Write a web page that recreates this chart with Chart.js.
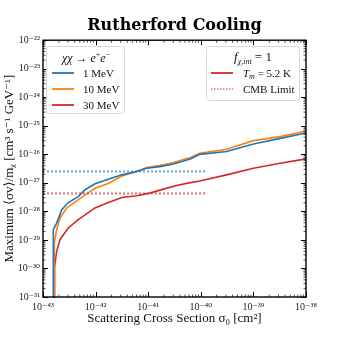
<!DOCTYPE html>
<html>
<head>
<meta charset="utf-8">
<script src="https://cdn.jsdelivr.net/npm/chart.js@4"></script>
<style>
  html, body { margin: 0; padding: 0; background: #fff; }
</style>
</head>
<body>
<canvas id="coolingChart" width="340" height="340"></canvas>
<script>
// values (sigma0 in cm^2, <sigma v>/m_chi in cm^3 s^-1 GeV^-1)
var blueX = [1.55e-43, 1.57e-43, 1.82e-43, 2.27e-43, 3.02e-43, 4.68e-43, 6.31e-43, 9.77e-43, 1.74e-42, 3.16e-42, 6.03e-42, 9.33e-42, 1.66e-41, 3.02e-41, 6.31e-41, 9.55e-41, 3.09e-40, 1e-39, 3.24e-39, 1e-38];
var blueY = [1e-32, 2.29e-29, 3.89e-29, 1.15e-28, 2.04e-28, 3.31e-28, 5.75e-28, 9.33e-28, 1.35e-27, 1.91e-27, 2.51e-27, 3.24e-27, 3.72e-27, 4.57e-27, 6.92e-27, 1e-26, 1.26e-26, 2.29e-26, 3.63e-26, 5.62e-26];

var orangeX = [1.62e-43, 1.64e-43, 1.82e-43, 2.10e-43, 2.82e-43, 4.68e-43, 6.31e-43, 9.77e-43, 1.74e-42, 3.16e-42, 6.03e-42, 9.33e-42, 1.66e-41, 3.02e-41, 6.31e-41, 9.55e-41, 3.09e-40, 1e-39, 3.24e-39, 1e-38];
var orangeY = [1e-32, 7.94e-30, 2.29e-29, 5.89e-29, 1.32e-28, 2.57e-28, 3.80e-28, 6.46e-28, 9.55e-28, 1.74e-27, 2.51e-27, 3.47e-27, 4.07e-27, 5.13e-27, 7.76e-27, 1.10e-26, 1.51e-26, 3.02e-26, 4.17e-26, 6.61e-26];

var redX = [1.64e-43, 1.66e-43, 1.82e-43, 2.10e-43, 3.02e-43, 4.68e-43, 9.77e-43, 1.74e-42, 3.16e-42, 6.03e-42, 1.07e-41, 1.95e-41, 3.47e-41, 6.31e-41, 9.55e-41, 3.09e-40, 1e-39, 3.24e-39, 1e-38];
var redY = [1e-32, 1.17e-30, 3.98e-30, 1.02e-29, 2.63e-29, 5.13e-29, 1.32e-28, 2.04e-28, 3.09e-28, 3.55e-28, 4.37e-28, 6.03e-28, 8.13e-28, 1.02e-27, 1.17e-27, 1.91e-27, 3.24e-27, 4.90e-27, 6.92e-27];

// CMB limits (dotted)
var cmbX = [1e-43, 1.25e-40];
var cmbBlueY = [2.51e-27, 2.51e-27];
var cmbRedY = [4.27e-28, 4.27e-28];

var massLabels = ['1 MeV', '10 MeV', '30 MeV'];

var xTickValues = [1e-43, 1e-42, 1e-41, 1e-40, 1e-39, 1e-38];
var xTickLabels = ['10⁻⁴³', '10⁻⁴²', '10⁻⁴¹', '10⁻⁴⁰', '10⁻³⁹', '10⁻³⁸'];
var yTickValues = [1e-31, 1e-30, 1e-29, 1e-28, 1e-27, 1e-26, 1e-25, 1e-24, 1e-23, 1e-22];
var yTickLabels = ['10⁻³¹', '10⁻³⁰', '10⁻²⁹', '10⁻²⁸', '10⁻²⁷', '10⁻²⁶', '10⁻²⁵', '10⁻²⁴', '10⁻²³', '10⁻²²'];

var BLUE = '#1f77b4', ORANGE = '#ff7f0e', RED = '#d62728';
var SERIF = '"Liberation Serif", "DejaVu Serif", serif';

function pts(xs, ys){
  var out = [];
  for(var i = 0; i < xs.length; i++) out.push({ x: xs[i], y: ys[i] });
  return out;
}

function drawRich(ctx, parts, x, y, align){
  var w = 0;
  for(var i = 0; i < parts.length; i++){ ctx.font = parts[i][1]; w += ctx.measureText(parts[i][0]).width; }
  var cx = align === 'center' ? x - w / 2 : x;
  for(var i = 0; i < parts.length; i++){
    ctx.font = parts[i][1];
    ctx.fillText(parts[i][0], cx, y + (parts[i][2] || 0));
    cx += ctx.measureText(parts[i][0]).width;
  }
}

function legendBox(ctx, x, y, w, h){
  ctx.beginPath();
  ctx.roundRect(x, y, w, h, 3);
  ctx.fillStyle = 'rgba(255,255,255,0.85)';
  ctx.fill();
  ctx.strokeStyle = '#d8d8d8';
  ctx.lineWidth = 1;
  ctx.stroke();
}

// inward ticks on all four sides + frame
var frameTicks = {
  id: 'frameTicks',
  afterDatasetsDraw: function(chart){
    var ctx = chart.ctx, a = chart.chartArea;
    var xs = chart.scales.x, ys = chart.scales.y;
    ctx.save();
    ctx.strokeStyle = '#000';

    for(var i = 0; i < xTickValues.length; i++){
      var px = Math.round(xs.getPixelForValue(xTickValues[i])) + 0.5;
      ctx.lineWidth = 1;
      ctx.beginPath();
      ctx.moveTo(px, a.bottom); ctx.lineTo(px, a.bottom - 5);
      ctx.moveTo(px, a.top); ctx.lineTo(px, a.top + 5);
      ctx.stroke();
      if(i === xTickValues.length - 1) break;
      ctx.lineWidth = 0.7;
      for(var m = 2; m < 10; m++){
        var mx = xs.getPixelForValue(xTickValues[i] * m);
        ctx.beginPath();
        ctx.moveTo(mx, a.bottom); ctx.lineTo(mx, a.bottom - 2.5);
        ctx.moveTo(mx, a.top); ctx.lineTo(mx, a.top + 2.5);
        ctx.stroke();
      }
    }
    for(var j = 0; j < yTickValues.length; j++){
      var py = Math.round(ys.getPixelForValue(yTickValues[j])) + 0.5;
      ctx.lineWidth = 1;
      ctx.beginPath();
      ctx.moveTo(a.left, py); ctx.lineTo(a.left + 5, py);
      ctx.moveTo(a.right, py); ctx.lineTo(a.right - 5, py);
      ctx.stroke();
      if(j === yTickValues.length - 1) break;
      ctx.lineWidth = 0.7;
      for(var n = 2; n < 10; n++){
        var my = ys.getPixelForValue(yTickValues[j] * n);
        ctx.beginPath();
        ctx.moveTo(a.left, my); ctx.lineTo(a.left + 2.5, my);
        ctx.moveTo(a.right, my); ctx.lineTo(a.right - 2.5, my);
        ctx.stroke();
      }
    }
    ctx.lineWidth = 1.4;
    ctx.strokeRect(a.left, a.top, a.right - a.left, a.bottom - a.top);
    ctx.restore();
  }
};

// the two matplotlib-style legends
var twoLegends = {
  id: 'twoLegends',
  afterDraw: function(chart){
    var ctx = chart.ctx;
    ctx.save();
    ctx.textBaseline = 'alphabetic';
    ctx.fillStyle = '#111';

    legendBox(ctx, 46.5, 46.5, 78, 67);
    ctx.fillStyle = '#111';
    drawRich(ctx, [
      ['χχ', 'italic 12px ' + SERIF], [' → ', '12px ' + SERIF],
      ['e', 'italic 12px ' + SERIF], ['+', '8px ' + SERIF, -5],
      ['e', 'italic 12px ' + SERIF], ['−', '8px ' + SERIF, -5]
    ], 86, 62, 'center');
    var cols = [BLUE, ORANGE, RED];
    for(var i = 0; i < massLabels.length; i++){
      var ly = 73 + i * 16;
      ctx.strokeStyle = cols[i]; ctx.lineWidth = 1.8;
      ctx.beginPath(); ctx.moveTo(52, ly); ctx.lineTo(74, ly); ctx.stroke();
      ctx.fillStyle = '#111';
      ctx.font = '11px ' + SERIF;
      ctx.fillText(massLabels[i], 83, ly + 4);
    }

    legendBox(ctx, 206.5, 46.5, 93, 54);
    ctx.fillStyle = '#111';
    drawRich(ctx, [
      ['f', 'italic 13px ' + SERIF], ['χ,int', 'italic 8px ' + SERIF, 3], [' = 1', '13px ' + SERIF]
    ], 253, 61, 'center');
    ctx.strokeStyle = RED; ctx.lineWidth = 1.8;
    ctx.beginPath(); ctx.moveTo(211, 73); ctx.lineTo(233, 73); ctx.stroke();
    ctx.setLineDash([1.5, 1.5]); ctx.lineWidth = 1.2;
    ctx.beginPath(); ctx.moveTo(211, 89); ctx.lineTo(233, 89); ctx.stroke();
    ctx.setLineDash([]);
    drawRich(ctx, [
      ['T', 'italic 11px ' + SERIF], ['m', 'italic 8px ' + SERIF, 2], [' = 5.2 K', '11px ' + SERIF]
    ], 243, 77);
    ctx.font = '11px ' + SERIF;
    ctx.fillText('CMB Limit', 243, 93);
    ctx.restore();
  }
};

var lineDefaults = { fill: false, tension: 0, pointRadius: 0, borderWidth: 1.6, clip: 1 };

var datasets = [
  Object.assign({ label: 'CMB 1 MeV', data: pts(cmbX, cmbBlueY), borderColor: 'rgba(31,119,180,0.65)', borderDash: [2, 2], borderWidth: 2 }, { fill: false, pointRadius: 0 }),
  Object.assign({ label: 'CMB 30 MeV', data: pts(cmbX, cmbRedY), borderColor: 'rgba(214,39,40,0.65)', borderDash: [2, 2], borderWidth: 2 }, { fill: false, pointRadius: 0 }),
  Object.assign({ label: massLabels[0], data: pts(blueX, blueY), borderColor: BLUE }, lineDefaults),
  Object.assign({ label: massLabels[1], data: pts(orangeX, orangeY), borderColor: ORANGE }, lineDefaults),
  Object.assign({ label: massLabels[2], data: pts(redX, redY), borderColor: RED }, lineDefaults)
];

new Chart(document.getElementById('coolingChart').getContext('2d'), {
  type: 'line',
  data: { datasets: datasets },
  options: {
    responsive: false,
    animation: false,
    layout: { padding: { left: 0, right: 0, top: 0, bottom: 0 } },
    scales: {
      x: {
        type: 'logarithmic', position: 'bottom', min: 1e-43, max: 1e-38,
        grid: { display: false, drawTicks: false },
        border: { display: false },
        afterBuildTicks: function(s){ s.ticks = xTickValues.map(function(v){ return { value: v } }) },
        afterFit: function(s){ s.height = 43 },
        ticks: {
          padding: 4, color: '#222', maxRotation: 0, autoSkip: false,
          font: { family: SERIF, size: 10 },
          callback: function(v){ return xTickLabels[xTickValues.indexOf(v)] }
        },
        title: { display: true, text: 'Scattering Cross Section σ₀ [cm²]', color: '#111', font: { family: SERIF, size: 13 }, padding: { top: 0, bottom: 14 } }
      },
      y: {
        type: 'logarithmic', position: 'left', min: 1e-31, max: 1e-22,
        grid: { display: false, drawTicks: false },
        border: { display: false },
        afterBuildTicks: function(s){ s.ticks = yTickValues.map(function(v){ return { value: v } }) },
        afterFit: function(s){ s.width = 43 },
        ticks: {
          padding: 3, color: '#222', autoSkip: false,
          font: { family: SERIF, size: 10 },
          callback: function(v){ return yTickLabels[yTickValues.indexOf(v)] }
        },
        title: { display: true, text: 'Maximum ⟨σv⟩/mᵪ [cm³ s⁻¹ GeV⁻¹]', color: '#111', font: { family: SERIF, size: 13 }, padding: { top: 2, bottom: 0 } }
      },
      spare: {
        type: 'linear', position: 'right', display: true,
        grid: { display: false, drawTicks: false },
        border: { display: false },
        ticks: { display: false },
        afterFit: function(s){ s.width = 34 }
      }
    },
    plugins: {
      legend: { display: false },
      tooltip: { enabled: false },
      title: {
        display: true, fullSize: false, text: 'Rutherford Cooling', color: '#000',
        font: { family: '"DejaVu Serif", serif', size: 16, weight: 'bold' },
        padding: { top: 16, bottom: 5 }
      }
    }
  },
  plugins: [frameTicks, twoLegends]
});
</script>
</body>
</html>
